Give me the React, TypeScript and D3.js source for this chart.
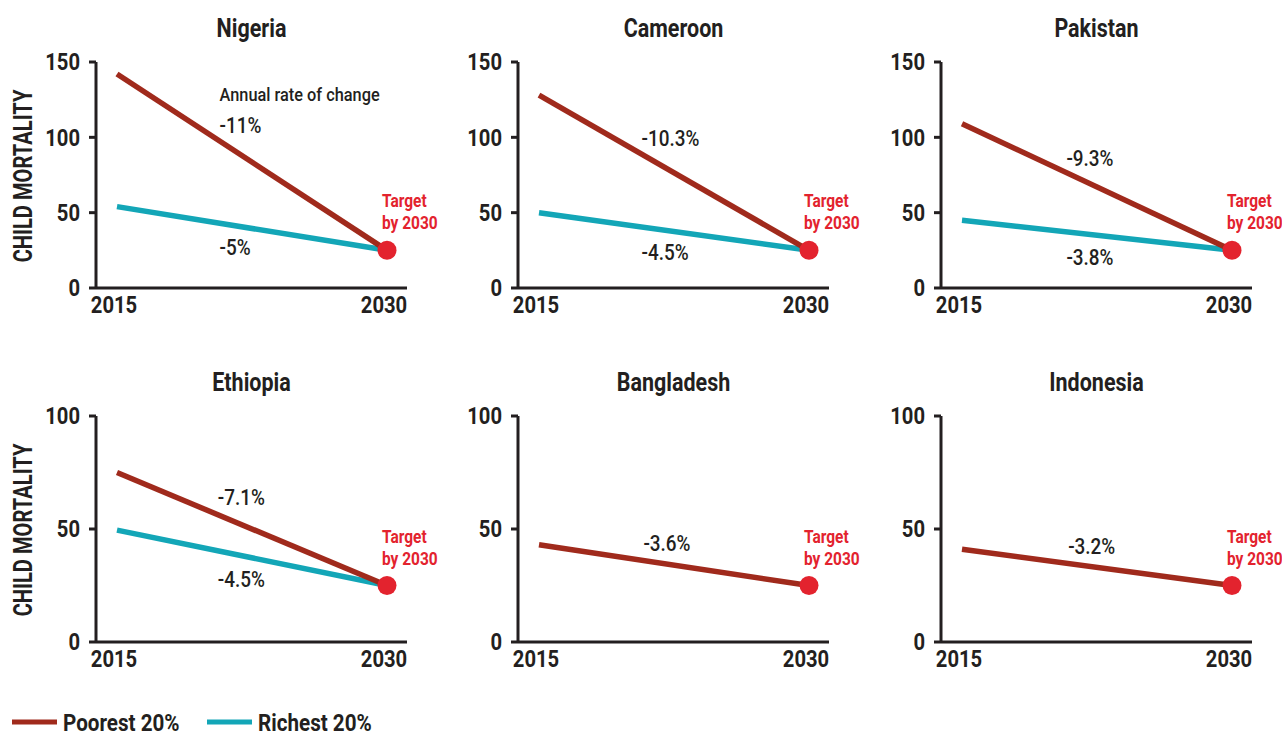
import React from "react";
import * as d3 from "d3";

const countries = ["Nigeria", "Cameroon", "Pakistan", "Ethiopia", "Bangladesh", "Indonesia"];
const years = [2015, 2030];
const poorest: number[][] = [[142, 25], [128, 25], [109, 25], [75, 25], [43, 25], [41, 25]];
const richest: (number[] | null)[] = [[54, 25], [50, 25], [45, 25], [49.5, 25], null, null];
const poorRate = ["-11%", "-10.3%", "-9.3%", "-7.1%", "-3.6%", "-3.2%"];
const richRate: (string | null)[] = ["-5%", "-4.5%", "-3.8%", "-4.5%", null, null];
const yMaxes = [150, 150, 150, 100, 100, 100];
const yTicks = [[0, 50, 100, 150], [0, 50, 100, 150], [0, 50, 100, 150], [0, 50, 100], [0, 50, 100], [0, 50, 100]];
const targetValue = 25;
const seriesNames = ["Poorest 20%", "Richest 20%"];
// label anchors in (year, value)
const poorLabelAt = [[2020.7, 108.2], [2020.7, 99.6], [2020.8, 86.3], [2020.6, 64.2], [2020.8, 43.8], [2020.9, 42.5]];
const richLabelAt = [[2020.7, 27.2], [2020.7, 23.9], [2020.8, 20.6], [2020.6, 27.9], null, null];
const annualLabelAt = [2020.7, 128.8];

const POOR = "#a02a1c";
const RICH = "#13a6b7";
const TARGET = "#e3232e";
const INK = "#231f20";
const FONT = "Roboto, 'Liberation Sans', sans-serif";
const SX = 0.86;

type TProps = {
  x: number;
  y: number;
  size: number;
  weight?: string | number;
  anchor?: "start" | "middle" | "end";
  fill?: string;
  rotate?: number;
  dy?: string;
  sx?: number;
  children: React.ReactNode;
};

function T({ x, y, size, weight = "normal", anchor = "start", fill = INK, rotate = 0, dy, sx = SX, children }: TProps) {
  return (
    <text
      transform={`translate(${x},${y}) rotate(${rotate}) scale(${sx},1)`}
      textAnchor={anchor}
      fontFamily={FONT}
      fontWeight={weight}
      fontSize={size}
      fill={fill}
      dy={dy}
    >
      {children}
    </text>
  );
}

const colX = [96, 518, 941];
const rowY = [62, 416];
const W = 311;
const H = 226;

function Panel({ i }: { i: number }) {
  const ox = colX[i % 3];
  const oy = rowY[Math.floor(i / 3)];
  const x = d3.scaleLinear().domain(years).range([21, 291]);
  const y = d3.scaleLinear().domain([0, yMaxes[i]]).range([H, 0]);
  const line = d3.line<[number, number]>().x((d) => x(d[0])).y((d) => y(d[1]));
  const mk = (v: number[]) => years.map((yr, k) => [yr, v[k]] as [number, number]);
  const r = richest[i];
  const rl = richLabelAt[i];
  return (
    <g transform={`translate(${ox},${oy})`}>
      <T x={W / 2} y={-25} anchor="middle" weight="bold" size={25}>
        {countries[i]}
      </T>
      {yTicks[i].map((t) => (
        <g key={t}>
          <line x1={-7} x2={0} y1={y(t)} y2={y(t)} stroke={INK} strokeWidth={3} />
          <T x={-16} y={y(t)} dy="0.36em" anchor="end" weight="bold" size={23.5}>
            {t}
          </T>
        </g>
      ))}
      <line x1={0} x2={0} y1={y(yMaxes[i])} y2={H} stroke={INK} strokeWidth={3} />
      <line x1={0} x2={W} y1={H} y2={H} stroke={INK} strokeWidth={3} />
      {years.map((yr) => (
        <T key={yr} x={x(yr) - 3} y={H + 25} anchor="middle" weight="bold" size={23.5}>
          {yr}
        </T>
      ))}
      {r && <path d={line(mk(r)) || ""} fill="none" stroke={RICH} strokeWidth={5.5} />}
      <path d={line(mk(poorest[i])) || ""} fill="none" stroke={POOR} strokeWidth={5.5} />
      <circle cx={x(2030)} cy={y(targetValue)} r={9.5} fill={TARGET} />
      <T x={x(2030) - 5} y={y(targetValue) - 43} weight="bold" size={18} fill={TARGET}>
        Target
      </T>
      <T x={x(2030) - 5} y={y(targetValue) - 21} weight="bold" size={18} fill={TARGET}>
        by 2030
      </T>
      <T x={x(poorLabelAt[i][0])} y={y(poorLabelAt[i][1])} dy="0.36em" size={22} weight={500}>
        {poorRate[i]}
      </T>
      {rl && richRate[i] && (
        <T x={x(rl[0])} y={y(rl[1])} dy="0.36em" size={22} weight={500}>
          {richRate[i]}
        </T>
      )}
      {i === 0 && (
        <T x={x(annualLabelAt[0])} y={y(annualLabelAt[1])} dy="0.36em" size={19} weight={500}>
          Annual rate of change
        </T>
      )}
    </g>
  );
}

export default function App() {
  return (
    <svg width={1282} height={735} style={{ position: "absolute", left: 0, top: 0, background: "#fff" }}>
      {countries.map((c, i) => (
        <Panel key={c} i={i} />
      ))}
      {rowY.map((ry) => (
        <T key={ry} x={32} y={ry + 114} rotate={-90} anchor="middle" weight="bold" size={26} sx={0.775}>
          CHILD MORTALITY
        </T>
      ))}
      {seriesNames.map((s, k) => (
        <g key={s} transform={`translate(${12 + k * 195},722)`}>
          <line x1={0} x2={45} y1={0} y2={0} stroke={k === 0 ? POOR : RICH} strokeWidth={5} />
          <T x={51} y={0} dy="0.36em" weight="bold" size={24}>
            {s}
          </T>
        </g>
      ))}
    </svg>
  );
}
